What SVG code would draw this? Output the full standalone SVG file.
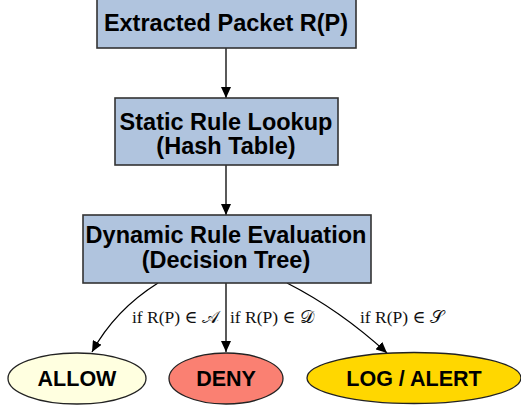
<svg xmlns="http://www.w3.org/2000/svg" width="521" height="407" viewBox="0 0 521 407">
  <style>
    .box { fill: #b0c4de; stroke: #333333; stroke-width: 1.6; }
    .term { stroke: #222222; stroke-width: 1.3; }
    .title { font-family: "Liberation Sans", Arial, sans-serif; font-weight: bold; font-size: 23.5px; fill: #000; text-anchor: middle; }
    .tlabel { font-family: "Liberation Sans", Arial, sans-serif; font-weight: bold; font-size: 21.5px; fill: #000; text-anchor: middle; }
    .cond { font-family: "Liberation Serif", "DejaVu Serif", serif; font-size: 17.5px; fill: #111; }
    .edge { fill: none; stroke: #000; stroke-width: 1.3; }
  </style>
  <defs>
    <marker id="arrow" markerUnits="userSpaceOnUse" markerWidth="11" markerHeight="10" refX="11" refY="5" orient="auto">
      <path d="M0,0 L11,5 L0,10 z" fill="#000"/>
    </marker>
  </defs>

  <rect width="521" height="407" fill="#ffffff"/>

  <g id="edges">
    <path class="edge" d="M226,48 L226,98" marker-end="url(#arrow)"/>
    <path class="edge" d="M226,165 L226,215" marker-end="url(#arrow)"/>
    <path class="edge" d="M158,283 Q115,310 92,352" marker-end="url(#arrow)"/>
    <path class="edge" d="M226,283 L226,352" marker-end="url(#arrow)"/>
    <path class="edge" d="M287,283 Q340,310 387,353" marker-end="url(#arrow)"/>
    <text class="cond" x="132" y="323">if R(P) ∈ 𝒜</text>
    <text class="cond" x="230" y="323">if R(P) ∈ 𝒟</text>
    <text class="cond" x="360" y="323">if R(P) ∈ 𝒮</text>
  </g>

  <g id="extracted">
    <rect class="box" x="97" y="-1" width="259" height="49"/>
    <text class="title" x="226" y="31">Extracted Packet R(P)</text>
  </g>

  <g id="static">
    <rect class="box" x="115" y="98" width="223" height="67"/>
    <text class="title" x="226" y="130">Static Rule Lookup</text>
    <text class="title" x="226" y="154">(Hash Table)</text>
  </g>

  <g id="dynamic">
    <rect class="box" x="83" y="215" width="288" height="68"/>
    <text class="title" x="226" y="243">Dynamic Rule Evaluation</text>
    <text class="title" x="226" y="268">(Decision Tree)</text>
  </g>

  <g id="allow">
    <ellipse class="term" cx="77" cy="378.5" rx="69" ry="25.5" fill="#ffffe0"/>
    <text class="tlabel" x="77" y="386">ALLOW</text>
  </g>

  <g id="deny">
    <ellipse class="term" cx="226" cy="378.5" rx="57" ry="25.5" fill="#fa8072"/>
    <text class="tlabel" x="226" y="386">DENY</text>
  </g>

  <g id="log-alert">
    <ellipse class="term" cx="414" cy="378" rx="107" ry="25.5" fill="#ffd700"/>
    <text class="tlabel" x="414" y="386">LOG / ALERT</text>
  </g>
</svg>
